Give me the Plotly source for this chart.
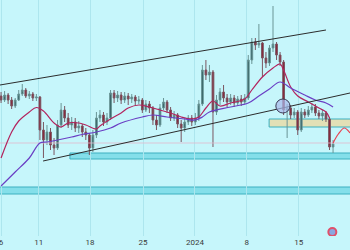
import plotly.graph_objects as go

# Candles (one per trading-day third), prices in chart units
opens = [154,150,155,150,144,150,156,160,154,156, 152,153,120,110,118,105,102,125,140,132,
         125,128,122,124,118,115,102,115,132,135, 128,132,157,152,155,150,154,151,153,149,
         150,140,146,142,130,125,142,148,140,132, 135,126,122,128,132,128,132,146,180,175,
         178,138,150,158,152,148,152,147,151,148, 152,190,208,205,207,192,187,202,206,195,
         188,140,142,135,138,120,138,135,140,143, 137,134,137,131,103]
closes = [150,155,150,144,150,156,160,154,156,152, 153,120,110,118,105,102,125,140,132,125,
          128,122,124,118,115,102,115,132,135,128, 132,157,152,155,150,154,151,153,149,150,
          140,146,142,130,125,142,148,140,132,135, 126,122,128,132,128,132,146,180,175,178,
          138,150,158,152,148,152,147,151,148,152, 190,208,205,207,192,187,202,206,195,188,
          140,142,135,138,120,138,135,140,143,137, 134,137,131,103,106]
highs = [158,159,157,153,152,160,166,162,159,158, 156,154,128,125,122,112,130,147,144,137,
         133,132,129,126,122,117,120,138,140,138, 137,160,160,159,158,158,157,156,155,154,
         152,150,149,144,135,146,152,150,143,139, 137,130,132,135,135,137,150,185,190,185,
         180,155,162,165,156,156,155,154,155,156, 195,212,212,226,208,198,205,244,208,198,
         190,146,145,142,140,142,141,144,147,146, 140,140,139,133,110]
lows = [147,148,146,141,142,149,154,152,151,149, 149,110,92,105,100,95,100,122,128,122,
        120,118,117,113,110,95,98,112,128,124, 125,130,147,148,146,147,145,147,144,146,
        137,138,137,125,120,123,140,137,129,129, 122,108,118,125,124,125,129,144,170,168,
        103,135,145,148,143,145,143,144,144,146, 150,186,200,202,173,182,184,198,190,184,
        135,112,131,132,115,118,132,133,137,134, 131,129,128,100,97]
candle_idx = list(range(len(opens)))

# Moving averages
ma_fast_idx = [0,3,5,8,10,12,15,17,19,22,24,27,28,31,34,36,39,42,45,48,51,54,56,58,60,62,65,69,71,74,77,79,80,82,84,87,90,92,93]
ma_fast = [92,118,129,138,142.5,139,127,123,127,127,125,121,124,131,137,142,145,143,140,137,133,131,133,142,149,144,147,151,160,173,182,186,180,163,154,148,142,138,132]
ma_slow_idx = [0,4,8,11,13,16,20,23,27,31,34,40,43,47,52,55,57,59,65,70,73,76,79,82,86,89,92,94]
ma_slow = [64,78,92,107,108,110,113,115.5,118,122,127,133,135,133,131,130,133,138,143,147,154,161,168,162,155,150,147,143]

# Projection arc
proj_idx = [94.0,95.5,97.2,98.8]
proj_val = [107,116,122,117]

# Drawings
upper_trend_idx = [-0.3, 92.0]
upper_trend_val = [165, 220]
lower_trend_idx = [11.9, 98.8]
lower_trend_val = [89, 157]
supply_zone = {"x0": 75.9, "x1": 105, "y0": 123, "y1": 131}
demand_zone1 = {"x0": 19.5, "x1": 105, "y0": 91, "y1": 97}
demand_zone2 = {"x0": -5, "x1": 105, "y0": 56, "y1": 63}
circle_mark = {"x0": 77.8, "x1": 81.8, "y0": 137, "y1": 151}
last_price = 107

tick_vals = [0, 10.7, 25.2, 40.2, 54.9, 69.6, 84.3, 99.1]
tick_text = ["6", "11", "18", "25", "2024", "8", "15", "22"]

BG = "#c6f6fb"

fig = go.Figure()
fig.add_trace(go.Scatter(x=[-5, 105], y=[last_price, last_price], mode="lines",
                         line=dict(color="rgba(225,185,205,0.8)", width=1), hoverinfo="skip"))
fig.add_trace(go.Candlestick(
    x=candle_idx, open=opens, high=highs, low=lows, close=closes,
    increasing=dict(line=dict(color="#6a9596", width=1), fillcolor="#2f5d5f"),
    decreasing=dict(line=dict(color="#7a5560", width=1), fillcolor="#8a1f35"),
    whiskerwidth=0,
))
fig.add_trace(go.Scatter(x=ma_fast_idx, y=ma_fast, mode="lines",
                         line=dict(color="#b3245e", width=1.2, shape="spline")))
fig.add_trace(go.Scatter(x=ma_slow_idx, y=ma_slow, mode="lines",
                         line=dict(color="#6a3fc4", width=1.2, shape="spline")))
fig.add_trace(go.Scatter(x=proj_idx, y=proj_val, mode="lines",
                         line=dict(color="#e8404f", width=1.2, shape="spline")))
fig.add_trace(go.Scatter(x=upper_trend_idx, y=upper_trend_val, mode="lines",
                         line=dict(color="#2b2b2b", width=1)))
fig.add_trace(go.Scatter(x=lower_trend_idx, y=lower_trend_val, mode="lines",
                         line=dict(color="#2b2b2b", width=1)))
fig.add_trace(go.Scatter(x=[93.8], y=[18], mode="markers",
                         marker=dict(size=8, color="#8aa6e0", line=dict(color="#e0506a", width=2))))

shapes = []
for z, fill in [(demand_zone1, "rgba(110,215,228,0.75)"), (demand_zone2, "rgba(110,215,228,0.75)"),
                (supply_zone, "rgba(228,222,178,0.95)")]:
    shapes.append(dict(type="rect", xref="x", yref="y", x0=z["x0"], x1=z["x1"], y0=z["y0"], y1=z["y1"],
                       fillcolor=fill, line=dict(color="#3cb0c0", width=1), layer="below"))
shapes.append(dict(type="circle", xref="x", yref="y", **circle_mark,
                   fillcolor="rgba(170,185,235,0.7)", line=dict(color="#3a3a55", width=1)))
fig.update_layout(shapes=shapes)

fig.update_layout(
    width=350, height=250,
    margin=dict(l=0, r=0, t=0, b=14),
    paper_bgcolor=BG, plot_bgcolor=BG,
    showlegend=False,
    xaxis=dict(range=[-0.3, 98.8], tickvals=tick_vals, ticktext=tick_text,
               showgrid=True, gridcolor="#ade6ee", gridwidth=1, zeroline=False,
               tickfont=dict(size=8, color="#3a3a3a", family="Roboto"), ticks="",
               ticklabeloverflow="allow",
               rangeslider=dict(visible=False), showline=False, fixedrange=True),
    yaxis=dict(range=[14, 250], showticklabels=False, showgrid=False, zeroline=False,
               showline=False, fixedrange=True),
)

fig.write_html("out.html")
